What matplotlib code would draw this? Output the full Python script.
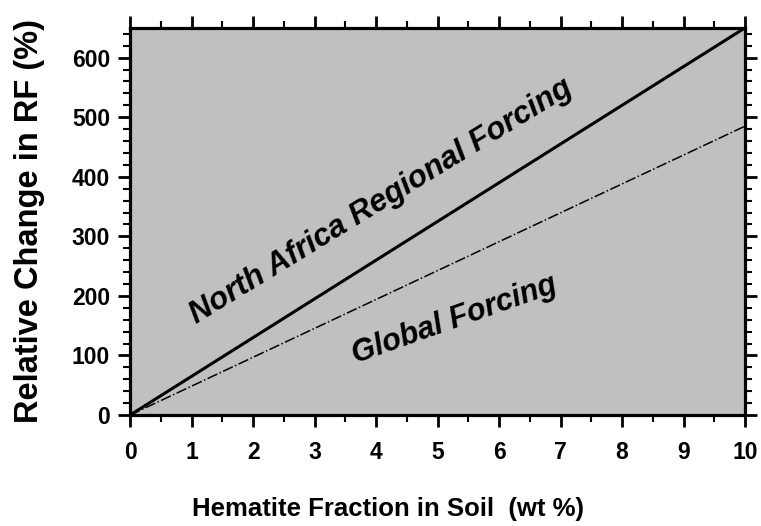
import matplotlib
matplotlib.use("Agg")
import matplotlib.pyplot as plt
from matplotlib.ticker import MultipleLocator

plt.rcParams['font.family'] = ['Liberation Sans', 'DejaVu Sans']

# Hematite fraction (wt %) and relative change in radiative forcing (%)
hematite = [0, 10]
north_africa = [0, 650]
global_forcing = [0, 485]

x_ticks = list(range(0, 11))
y_ticks = [0, 100, 200, 300, 400, 500, 600]

fig = plt.figure(figsize=(7.61, 5.26), dpi=100)
ax = fig.add_axes([0.171, 0.211, 0.808, 0.736])
ax.set_facecolor('#c0c0c0')

ax.plot(hematite, north_africa, color='black', lw=2.2, solid_capstyle='butt')
ax.plot(hematite, global_forcing, color='black', lw=1.1,
        linestyle=(0, (7, 1.6, 1, 1.6)))

ax.set_xlim(0, 10)
ax.set_ylim(0, 650)
ax.set_xticks(x_ticks)
ax.set_yticks(y_ticks)
ax.xaxis.set_minor_locator(MultipleLocator(0.5))
ax.yaxis.set_minor_locator(MultipleLocator(20))

ax.tick_params(which='both', direction='out', top=True, right=True,
               labeltop=False, labelright=False)
ax.tick_params(which='major', length=8.5, width=2, labelsize=16.5)
ax.tick_params(which='minor', length=5, width=1.5)
ax.tick_params(axis='x', which='major', pad=10)
ax.tick_params(axis='y', which='major', pad=6)
for lab in ax.get_xticklabels() + ax.get_yticklabels():
    lab.set_fontweight('bold')

for s in ax.spines.values():
    s.set_linewidth(2.3)

ax.set_xlabel('Hematite Fraction in Soil  (wt %)', fontsize=18.5, fontweight='bold')
ax.xaxis.set_label_coords(0.42, -0.212)
ax.xaxis.label.set_verticalalignment('top')

ax.set_ylabel('Relative Change in RF (%)', fontsize=23.5, fontweight='bold')
ax.yaxis.set_label_coords(-0.163, 0.5)
ax.yaxis.label.set_verticalalignment('center')

ax.text(4.08, 358, 'North Africa Regional Forcing', fontsize=22.5, fontweight='bold',
        fontstyle='italic', rotation=31.5, ha='center', va='center')
ax.text(5.27, 160, 'Global Forcing', fontsize=22, fontweight='bold',
        fontstyle='italic', rotation=19.5, ha='center', va='center')

fig.savefig('out.png', dpi=100)
